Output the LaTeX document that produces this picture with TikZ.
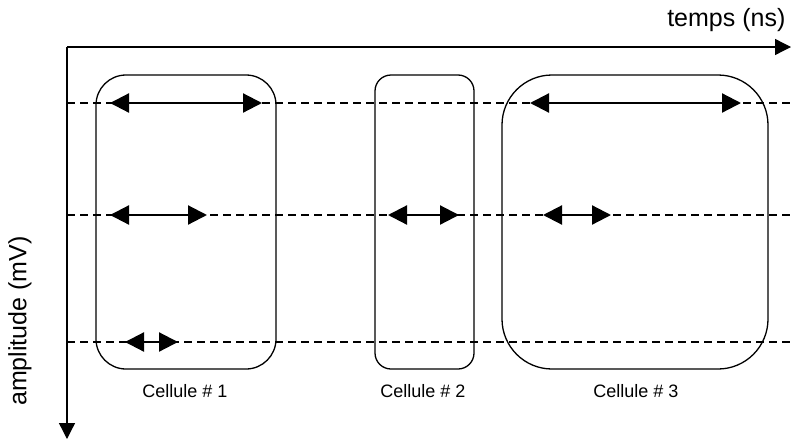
\documentclass[tikz,border=0pt]{standalone}
\usepackage{fontspec}
\setmainfont{Liberation Sans}
\usetikzlibrary{positioning, arrows.meta}

\begin{document}
\begin{tikzpicture}[x=1pt, y=-1pt, line width=1.3pt,
  axis/.style={-{Triangle[length=16pt,width=16pt]}},
  span/.style={{Triangle[length=19pt,width=19pt]}-{Triangle[length=19pt,width=19pt]}, line width=2.2pt},
  level/.style={dashed, dash pattern=on 8pt off 5pt},
  cell/.style={draw, minimum height=294pt, inner sep=0pt},
  lab/.style={font=\fontsize{18}{22}\selectfont, inner sep=0pt}]
\useasboundingbox (0,0) rectangle (791,442);
% axes
\coordinate (o) at (67,47);
\coordinate (t) at (791,47);
\coordinate (a) at (67,439);
\draw[axis] (o) -- (t);
\draw[axis] (o) -- (a);
\node[anchor=east, font=\fontsize{25}{30}\selectfont, inner sep=0pt] (tl) at (786,20) {temps (ns)};
\node[rotate=90, font=\fontsize{25}{30}\selectfont, inner sep=0pt] (al) at (20,321) {amplitude (mV)};
% levels
\coordinate (l1) at (67,103); \coordinate (r1) at (791,103);
\coordinate (l2) at (67,215); \coordinate (r2) at (791,215);
\coordinate (l3) at (67,342); \coordinate (r3) at (791,342);
\draw[level] (l1) -- (r1);
\draw[level] (l2) -- (r2);
\draw[level] (l3) -- (r3);
% cells
\node[cell, rounded corners=30pt, minimum width=180pt] (c1) at (186,222) {};
\node[cell, rounded corners=16pt, minimum width=99pt] (c2) at (424.5,222) {};
\node[cell, rounded corners=50pt, minimum width=266pt] (c3) at (635,222) {};
\node[lab] (n1) at (185,391) {Cellule \# 1};
\node[lab] (n2) at (423,391) {Cellule \# 2};
\node[lab] (n3) at (636,391) {Cellule \# 3};
% durations
\coordinate (a1) at (110,103); \coordinate (b1) at (262,103);
\coordinate (a2) at (110,215); \coordinate (b2) at (207,215);
\coordinate (a3) at (125,342); \coordinate (b3) at (178,342);
\coordinate (a4) at (388,215); \coordinate (b4) at (459,215);
\coordinate (a5) at (530,103); \coordinate (b5) at (741,103);
\coordinate (a6) at (543,215); \coordinate (b6) at (611,215);
\draw[span] (a1) -- (b1);
\draw[span] (a2) -- (b2);
\draw[span] (a3) -- (b3);
\draw[span] (a4) -- (b4);
\draw[span] (a5) -- (b5);
\draw[span] (a6) -- (b6);
\end{tikzpicture}
\end{document}
